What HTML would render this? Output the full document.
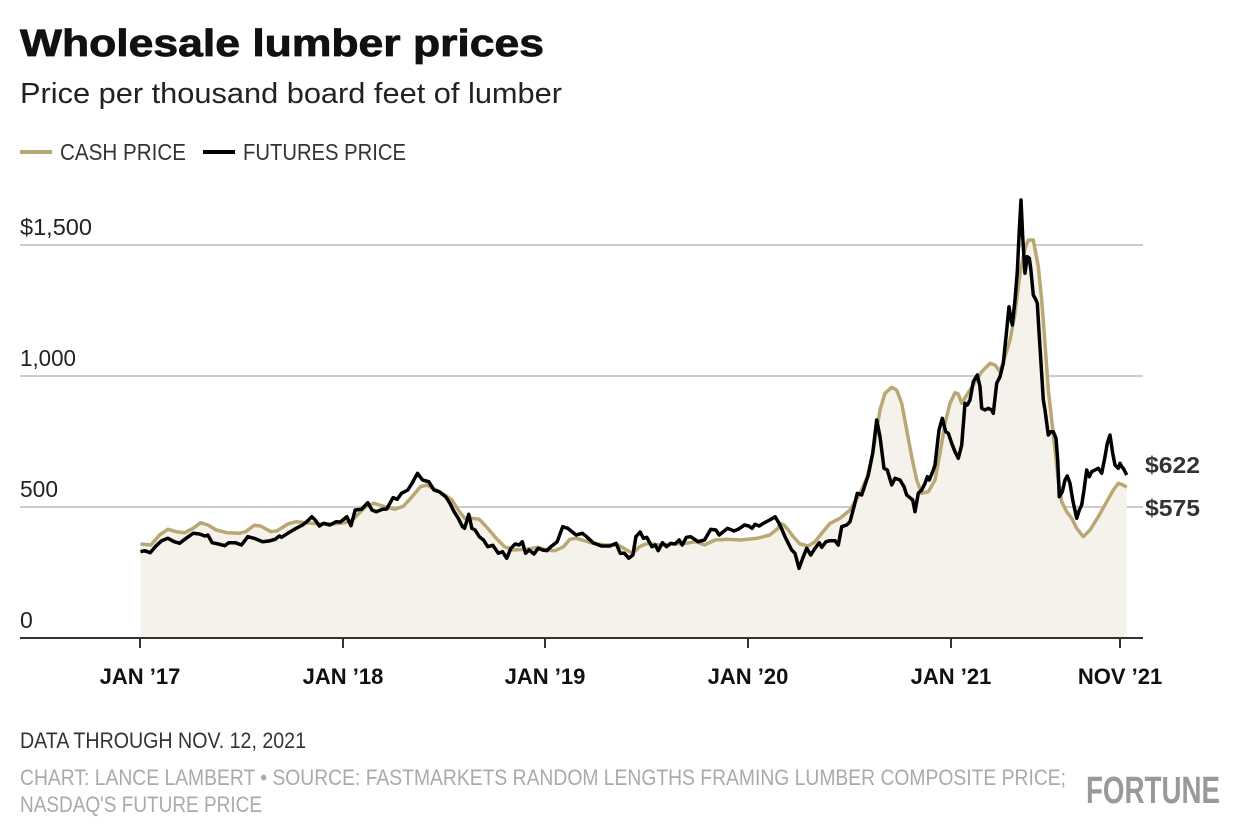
<!DOCTYPE html>
<html><head><meta charset="utf-8"><style>
body{margin:0;background:#fff;width:1240px;height:840px;overflow:hidden;font-family:"Liberation Sans",sans-serif}
svg{position:absolute;left:0;top:0}
</style></head><body>
<svg width="1240" height="840" viewBox="0 0 1240 840" id="s">
<text x="20" y="56" font-size="38" font-weight="bold" fill="#111" textLength="524" lengthAdjust="spacingAndGlyphs" stroke="#111" stroke-width="0.8">Wholesale lumber prices</text>
<text x="20" y="103" font-size="29" fill="#222" textLength="542" lengthAdjust="spacingAndGlyphs">Price per thousand board feet of lumber</text>
<line x1="20" y1="152" x2="52" y2="152" stroke="#b9a774" stroke-width="4"/>
<text x="60" y="160" font-size="23" fill="#333" textLength="126" lengthAdjust="spacingAndGlyphs">CASH PRICE</text>
<line x1="203" y1="152" x2="235" y2="152" stroke="#000" stroke-width="4"/>
<text x="243" y="160" font-size="23" fill="#333" textLength="163" lengthAdjust="spacingAndGlyphs">FUTURES PRICE</text>
<g stroke="#ccc" stroke-width="2">
<line x1="20" y1="245" x2="1143" y2="245"/><line x1="20" y1="376" x2="1143" y2="376"/><line x1="20" y1="507" x2="1143" y2="507"/>
</g>
<g font-size="23" fill="#222">
<text x="20" y="235" textLength="72" lengthAdjust="spacingAndGlyphs">$1,500</text><text x="20" y="366" textLength="56" lengthAdjust="spacingAndGlyphs">1,000</text><text x="20" y="497" textLength="38" lengthAdjust="spacingAndGlyphs">500</text><text x="20" y="628">0</text>
</g>
<path id="fill" fill="#f5f2eb"/>
<polyline id="gold" fill="none" stroke="#b9a774" stroke-width="3.5" stroke-linejoin="round"/>
<polyline id="blk" fill="none" stroke="#000" stroke-width="3.5" stroke-linejoin="round"/>
<line x1="20" y1="638" x2="1143" y2="638" stroke="#333" stroke-width="2"/>
<g stroke="#333" stroke-width="2">
<line x1="140" y1="638" x2="140" y2="648"/><line x1="343" y1="638" x2="343" y2="648"/><line x1="545" y1="638" x2="545" y2="648"/><line x1="748" y1="638" x2="748" y2="648"/><line x1="951" y1="638" x2="951" y2="648"/><line x1="1120" y1="638" x2="1120" y2="648"/>
</g>
<g font-size="22" font-weight="bold" fill="#111" text-anchor="middle">
<text x="140" y="684">JAN ’17</text><text x="343" y="684">JAN ’18</text><text x="545" y="684">JAN ’19</text><text x="748" y="684">JAN ’20</text><text x="951" y="684">JAN ’21</text><text x="1120" y="684">NOV ’21</text>
</g>
<g font-size="23" font-weight="bold" fill="#333">
<text x="1145" y="473" textLength="55" lengthAdjust="spacingAndGlyphs">$622</text><text x="1145" y="516" textLength="55" lengthAdjust="spacingAndGlyphs">$575</text>
</g>
<text x="20" y="748" font-size="22" fill="#333" textLength="286" lengthAdjust="spacingAndGlyphs">DATA THROUGH NOV. 12, 2021</text>
<text x="20" y="785" font-size="22" fill="#aaa" textLength="1046" lengthAdjust="spacingAndGlyphs">CHART: LANCE LAMBERT • SOURCE: FASTMARKETS RANDOM LENGTHS FRAMING LUMBER COMPOSITE PRICE;</text>
<text x="20" y="812" font-size="22" fill="#aaa" textLength="242" lengthAdjust="spacingAndGlyphs">NASDAQ'S FUTURE PRICE</text>
<text x="1086" y="803" font-size="38" font-weight="bold" fill="#999" textLength="134" lengthAdjust="spacingAndGlyphs">FORTUNE</text>
</svg>
<script>
function z2(a){return a.map(p=>[130+p[0]/2.376,400+p[1]/3]);}
function z1(a){return a.map(p=>[780+p[0]/3,190+p[1]/3]);}
var g2=[[25,432],[50,435],[70,405],[90,388],[110,395],[130,398],[150,385],[168,368],[185,375],[205,390],[230,398],[260,400],[275,395],[295,376],[310,378],[335,395],[350,392],[375,372],[395,365],[420,368],[450,372],[480,372],[510,368],[530,358],[560,320],[580,310],[600,318],[630,328],[650,318],[670,290],[690,260],[705,255],[720,265],[745,283],[765,300],[780,330],[795,355],[810,355],[830,358],[850,385],[870,415],[890,440],[910,450],[940,448],[970,442],[990,450],[1010,452],[1030,440],[1045,418],[1060,415],[1080,422],[1100,430],[1130,435],[1160,435],[1180,450],[1195,460],[1210,440],[1230,430],[1260,435],[1290,432],[1320,430],[1345,425],[1365,435],[1390,420],[1420,418],[1450,420],[1490,415],[1520,405],[1540,385],[1555,375]];
var b2=[[25,455],[35,452],[48,458],[60,440],[75,422],[90,415],[105,425],[118,430],[130,418],[150,400],[165,402],[178,408],[185,405],[195,428],[210,432],[225,437],[235,428],[250,428],[265,435],[280,410],[295,415],[315,425],[330,423],[345,418],[355,408],[360,412],[375,400],[395,385],[410,375],[420,365],[432,350],[440,360],[450,378],[460,370],[475,375],[490,365],[500,366],[515,350],[525,377],[535,330],[550,328],[565,308],[575,330],[585,335],[600,328],[610,327],[625,293],[635,298],[645,280],[660,270],[670,250],[683,220],[695,240],[710,245],[722,270],[735,275],[750,290],[760,310],[770,335],[780,355],[790,380],[795,385],[805,343],[812,385],[820,390],[830,410],[840,420],[850,440],[862,436],[875,460],[885,455],[895,475],[905,445],[915,432],[925,435],[932,425],[940,460],[948,450],[960,462],[970,445],[980,450],[990,452],[1000,440],[1015,425],[1028,380],[1040,385],[1060,405],[1075,400],[1085,410],[1100,428],[1120,438],[1140,438],[1155,430],[1165,460],[1175,460],[1185,475],[1195,465],[1202,410],[1212,396],[1220,415],[1228,412],[1240,440],[1248,435],[1255,452],[1265,428],[1275,440],[1285,430],[1295,432],[1305,420],[1312,435],[1322,412],[1332,410],[1350,425],[1365,420],[1380,388],[1392,390],[1400,405],[1420,385],[1435,393],[1445,388],[1460,375],[1470,378],[1478,385],[1485,373],[1495,378],[1505,370],[1520,360],[1533,350]];
var b1=[[0,1005],[15,1040],[25,1060],[35,1080],[45,1090],[57,1135],[70,1100],[80,1075],[92,1095],[105,1075],[118,1058],[125,1072],[138,1055],[150,1052],[165,1052],[175,1065],[185,1010],[200,1005],[210,995],[222,950],[232,910],[245,915],[255,885],[265,855],[278,790],[290,690],[300,740],[312,835],[322,840],[335,885],[345,865],[360,870],[372,890],[380,915],[392,925],[398,930],[405,965],[415,910],[425,900],[435,880],[442,860],[448,870],[458,845],[465,825],[470,780],[477,720],[487,685],[497,725],[505,730],[515,760],[525,785],[535,805],[545,765],[555,640],[562,645],[570,630],[580,575],[592,555],[600,590],[605,655],[615,660],[625,655],[635,660],[640,670],[650,580],[660,560],[670,520],[680,420],[687,350],[692,385],[697,405],[705,330],[712,245],[718,120],[723,30],[728,140],[735,250],[742,200],[748,205],[752,235],[760,315],[768,330],[772,340],[778,440],[783,520],[790,630],[795,660],[805,735],[812,725],[820,725],[828,745],[833,810],[838,920],[847,905],[855,870],[862,858],[870,880],[878,930],[890,985],[898,960],[905,945],[912,900],[920,840],[928,860],[935,845],[945,840],[955,835],[965,850],[975,800],[982,760],[990,735],[998,790],[1005,825],[1015,835],[1020,820],[1025,830],[1030,835],[1040,855]];
var g1=[[0,1000],[12,1005],[25,1020],[40,1040],[60,1062],[85,1068],[105,1055],[125,1030],[150,1000],[180,985],[210,960],[240,910],[262,860],[278,790],[290,720],[300,660],[315,610],[335,592],[350,600],[365,640],[380,720],[395,800],[410,870],[425,910],[445,905],[465,870],[480,790],[495,700],[510,640],[525,608],[535,612],[545,640],[560,615],[580,585],[605,545],[630,520],[645,525],[660,545],[675,500],[690,450],[705,370],[720,250],[735,175],[745,150],[760,150],[775,230],[785,330],[795,460],[805,600],[815,690],[825,780],[835,870],[845,935],[860,965],[875,985],[890,1015],[910,1040],[930,1020],[955,980],[980,935],[1000,900],[1015,880],[1030,885],[1040,892]];
var G=z2(g2).filter(p=>p[0]<780).concat(z1(g1));
var B=z2(b2).filter(p=>p[0]<780).concat(z1(b1));
function s(a){return a.map(p=>p[0].toFixed(1)+","+p[1].toFixed(1)).join(" ");}
document.getElementById("gold").setAttribute("points",s(G));
document.getElementById("blk").setAttribute("points",s(B));
var last=G[G.length-1];
document.getElementById("fill").setAttribute("d","M"+G[0][0]+",638 L"+s(G).replace(/ /g," L")+" L"+last[0]+",638 Z");
</script>
</body></html>
